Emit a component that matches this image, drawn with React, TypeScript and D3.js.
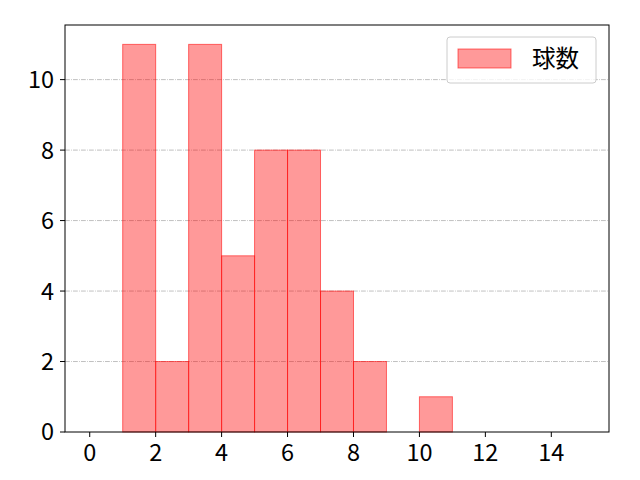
import React from "react";
import * as d3 from "d3";

const binStarts = [1, 2, 3, 4, 5, 6, 7, 8, 10];
const binCounts = [11, 2, 11, 5, 8, 8, 4, 2, 1];
const xTicks = [0, 2, 4, 6, 8, 10, 12, 14];
const yTicks = [0, 2, 4, 6, 8, 10];
const legendLabel = "球数";

const W = 640, H = 480;
const L = 65, R = 609, T = 25, B = 432;
const font = "'Noto Sans CJK JP', 'Noto Sans', sans-serif";
const fs = 23.5;

export default function App() {
  const x = d3.scaleLinear().domain([-0.75, 15.75]).range([L, R]);
  const y = d3.scaleLinear().domain([0, 11.55]).range([B, T]);
  return (
    <svg width={W} height={H} style={{ position: "absolute", left: 0, top: 0 }}>
      <rect x={0} y={0} width={W} height={H} fill="#fff" />
      {yTicks.filter(t => t > 0).map(t => (
        <line key={"g" + t} x1={L} x2={R} y1={y(t)} y2={y(t)} stroke="#b0b0b0" strokeWidth={0.8} strokeDasharray="4.8,1.2,0.8,1.2" />
      ))}
      {binStarts.map((s, i) => (
        <rect key={"b" + i} x={x(s)} y={y(binCounts[i])} width={x(s + 1) - x(s)} height={y(0) - y(binCounts[i])}
          fill="rgba(255,0,0,0.4)" stroke="rgba(255,0,0,0.55)" strokeWidth={1} />
      ))}
      <rect x={L} y={T} width={R - L} height={B - T} fill="none" stroke="#000" strokeWidth={1} />
      {xTicks.map(t => (
        <g key={"x" + t}>
          <line x1={x(t)} x2={x(t)} y1={B} y2={B + 5} stroke="#000" strokeWidth={1} />
          <text x={x(t)} y={461} textAnchor="middle" fontFamily={font} fontSize={fs} fill="#000">{t}</text>
        </g>
      ))}
      {yTicks.map(t => (
        <g key={"y" + t}>
          <line x1={L - 5} x2={L} y1={y(t)} y2={y(t)} stroke="#000" strokeWidth={1} />
          <text x={L - 11} y={y(t)} dy="0.36em" textAnchor="end" fontFamily={font} fontSize={fs} fill="#000">{t}</text>
        </g>
      ))}
      <rect x={447} y={37} width={149} height={46} rx={3} fill="rgba(255,255,255,0.8)" stroke="#cccccc" strokeWidth={1} />
      <rect x={458} y={49} width={53} height={19} fill="rgba(255,0,0,0.4)" stroke="rgba(255,0,0,0.55)" strokeWidth={1} />
      <text x={532} y={59} dy="0.36em" fontFamily={font} fontSize={fs} fill="#000">{legendLabel}</text>
    </svg>
  );
}
